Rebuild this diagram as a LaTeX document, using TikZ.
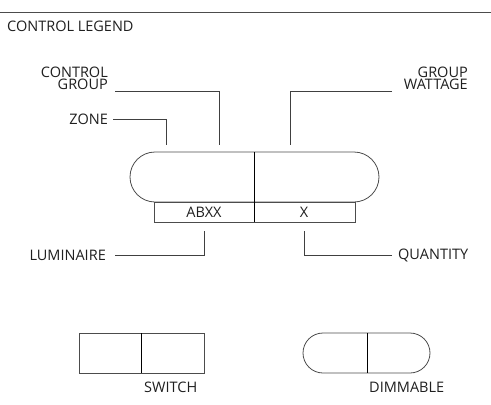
\documentclass[tikz,border=0pt]{standalone}
\usepackage{fontspec}
\setmainfont{Open Sans}
\begin{document}
\begin{tikzpicture}[x=1pt,y=-1pt,
  lbl/.style={font=\fontsize{14.5}{12}\selectfont, text=black!88, inner sep=0pt},
  caplbl/.style={lbl, text height=10pt, text depth=0pt},
  ln/.style={draw=black!75, line width=0.8pt},
  shp/.style={draw=black!70, line width=0.8pt},
  dv/.style={draw=black, line width=0.8pt}]
\useasboundingbox (0,0) rectangle (491,405);
\draw[draw=black!70, line width=1pt] (0,12) -- (491,12);
\node[lbl, anchor=west] (title) at (7,26) {CONTROL LEGEND};
% main pill
\draw[shp, rounded corners=25pt] (130,152) rectangle (379,202);
\draw[shp] (154,202) rectangle (355,222);
\draw[dv] (254,152) -- (254,222);
\node[lbl] (abxx) at (204,212) {ABXX};
\node[lbl] (x) at (304,212) {X};
\coordinate (pz) at (166,145);
\coordinate (pcg) at (219,145);
\coordinate (pgw) at (290,145);
\coordinate (pl) at (204,231);
\coordinate (pq) at (304,231);
% labels
\node[caplbl, anchor=base east] (cg1) at (108,77) {CONTROL};
\node[caplbl, anchor=base east] (cg2) at (108,89) {GROUP};
\node[lbl, anchor=east] (zone) at (108,119) {ZONE};
\node[caplbl, anchor=base east] (gw1) at (468,77) {GROUP};
\node[caplbl, anchor=base east] (gw2) at (468,89) {WATTAGE};
\node[lbl, anchor=east] (lum) at (106,255) {LUMINAIRE};
\node[lbl, anchor=west] (qty) at (398,255) {QUANTITY};
\draw[ln] (115,91) -| (pcg);
\draw[ln] (113,119) -| (pz);
\draw[ln] (392,91) -| (pgw);
\draw[ln] (115,255) -| (pl);
\draw[ln] (392,255) -| (pq);
% switch
\draw[shp] (79,333) rectangle (204,373);
\draw[dv] (141,333) -- (141,373);
\node[lbl, anchor=west] (sw) at (144,387) {SWITCH};
% dimmable
\draw[shp, rounded corners=20pt] (303,333) rectangle (430,373);
\draw[dv] (367,333) -- (367,373);
\node[lbl, anchor=west] (dim) at (369,387) {DIMMABLE};
\end{tikzpicture}
\end{document}
